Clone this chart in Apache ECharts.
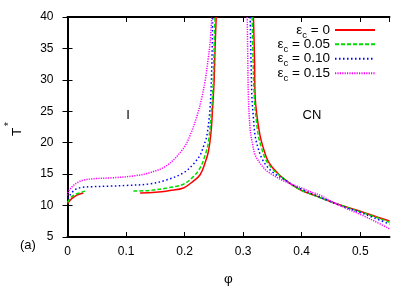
<!DOCTYPE html>
<html><head><meta charset="utf-8">
<script src="https://cdn.jsdelivr.net/npm/echarts@6/dist/echarts.min.js"></script>
<style>html,body{margin:0;padding:0;background:#fff}#c{width:415px;height:291px}</style>
</head><body><div id="c"></div>
<script>
// eps_c = 0
const red_left1 = [[0,10.3],[0.005,10.9],[0.01,11.3],[0.017,11.7],[0.027,12.0]];
const red_left2 = [[0.124,12.0],[0.15,12.1],[0.175,12.4],[0.198,12.8],[0.215,13.9],[0.2265,14.9],[0.235,16.8],[0.2407,18.6],[0.245,21.5],[0.248,25.7],[0.2505,30],[0.252,34.9],[0.254,40]];
const red_right = [[0.3176,40],[0.3195,33],[0.3205,27.3],[0.324,24],[0.329,21.1],[0.334,19.3],[0.3405,17.5],[0.348,16.3],[0.3576,15.3],[0.365,14.6],[0.385,13.2],[0.4,12.4],[0.425,11.5],[0.45,10.6],[0.475,9.8],[0.5,9.1],[0.525,8.3],[0.55,7.55]];
// eps_c = 0.05
const green_left1 = [[0,10.5],[0.005,11.2],[0.01,11.6],[0.02,12.0],[0.03,12.3]];
const green_left2 = [[0.1125,12.3],[0.14,12.4],[0.17,12.8],[0.198,13.4],[0.215,14.6],[0.2265,16.0],[0.235,18],[0.2407,20.1],[0.2465,25.7],[0.249,30],[0.2504,34.9],[0.252,40]];
const green_right = [[0.3154,40],[0.317,33],[0.319,27.3],[0.322,24],[0.326,21.1],[0.331,19.3],[0.3376,17.5],[0.345,16.4],[0.3547,15.4],[0.365,14.6],[0.38,13.5],[0.4,12.4],[0.425,11.5],[0.45,10.6],[0.475,9.8],[0.5,9.0],[0.525,8.2],[0.55,7.35]];
// eps_c = 0.10
const blue_left = [[0,11.1],[0.004,11.65],[0.01,12.3],[0.016,12.7],[0.025,12.9],[0.04,13.0],[0.073,13.1],[0.1,13.2],[0.141,13.45],[0.17,14.1],[0.198,15.2],[0.215,16.6],[0.2265,18.05],[0.233,19.6],[0.238,21.1],[0.2436,25.7],[0.2465,32.4],[0.248,40]];
const blue_right = [[0.312,40],[0.3135,33],[0.315,27.3],[0.3175,24],[0.3205,21.1],[0.326,19],[0.332,17.5],[0.341,16.2],[0.352,15.2],[0.369,14.2],[0.385,13.3],[0.4,12.6],[0.425,11.6],[0.45,10.6],[0.475,9.7],[0.5,8.9],[0.525,8.0],[0.55,7.05]];
// eps_c = 0.15
const magenta_left = [[0,11.6],[0.002,12.3],[0.01,13.2],[0.018,13.7],[0.027,14.06],[0.05,14.3],[0.073,14.4],[0.112,14.7],[0.141,15.24],[0.17,16.4],[0.198,19.1],[0.21,21.3],[0.221,24.2],[0.229,27],[0.235,29.8],[0.2405,33.5],[0.2436,36],[0.2465,40]];
const magenta_right = [[0.307,40],[0.308,33],[0.309,27.3],[0.312,22.1],[0.316,19.8],[0.3205,18.05],[0.33,16.6],[0.3405,15.5],[0.352,14.8],[0.363,14.2],[0.38,13.5],[0.397,12.9],[0.415,12.2],[0.4316,11.65],[0.45,10.7],[0.475,9.6],[0.5,8.6],[0.525,7.5],[0.55,6.3]];

const seriesNames = ['0', '0.05', '0.10', '0.15'];
const font = 'Liberation Sans';
const styles = [
  {color:'#ff0000', type:'solid'},
  {color:'#00dd00', type:[4,2]},
  {color:'#0000ff', type:[1.5,2.5]},
  {color:'#ff00ff', type:[1.2,1.2]}
];
const groups = [
  [red_left1, red_left2, red_right],
  [green_left1, green_left2, green_right],
  [blue_left, blue_right],
  [magenta_left, magenta_right]
];
const series = [];
groups.forEach((segs, i) => {
  segs.forEach(d => {
    series.push({
      name: seriesNames[i], type: 'line', data: d, showSymbol: false, symbol: 'none',
      smooth: 0.35, clip: true, animation: false,
      lineStyle: {color: styles[i].color, type: styles[i].type, width: 1.5},
      itemStyle: {color: styles[i].color}
    });
  });
});

const legendRowCenters = [29, 43.3, 57.7, 72.3];
const legends = seriesNames.map((n, i) => ({
  orient: 'vertical', right: 39, top: legendRowCenters[i] - 6, align: 'right', padding: 0,
  itemWidth: 40, itemHeight: 12, itemGap: 0,
  itemStyle: {opacity: 0},
  data: [n],
  formatter: s => '{m|ε}{s|c}{m| = ' + s + '}',
  textStyle: {
    fontFamily: font, fontSize: 13.5, color: '#000',
    rich: {
      m: {fontFamily: font, fontSize: 13.5, lineHeight: 14, color: '#000'},
      s: {fontFamily: font, fontSize: 9.5, lineHeight: 8, verticalAlign: 'bottom', color: '#000', padding: [0,0,-3,0]}
    }
  }
}));

const chart = echarts.init(document.getElementById('c'), null, {renderer: 'canvas'});
const grid = {left: 67.5, right: 25.5, top: 17, bottom: 46};
const axisCommon = {
  axisLine: {show: true, lineStyle: {color: '#000', width: 2}},
  axisTick: {show: true, inside: true, length: 5, lineStyle: {color: '#000', width: 1}},
  splitLine: {show: false}
};
chart.setOption({
  animation: false,
  grid: grid,
  legend: legends,
  xAxis: [
    Object.assign({}, axisCommon, {
      type: 'value', min: 0, max: 0.55, interval: 0.1, position: 'bottom',
      name: 'φ', nameLocation: 'middle', nameGap: 35,
      nameTextStyle: {fontFamily: font, fontSize: 13.5, color: '#000'},
      axisLabel: {fontFamily: font, fontSize: 12, color: '#000', margin: 9, showMaxLabel: false}
    }),
    Object.assign({}, axisCommon, {
      type: 'value', min: 0, max: 0.55, interval: 0.1, position: 'top',
      axisLabel: {show: false}
    })
  ],
  yAxis: [
    Object.assign({}, axisCommon, {
      type: 'value', min: 5, max: 40, interval: 5, position: 'left',
      axisLabel: {fontFamily: font, fontSize: 12, color: '#000', margin: 14}
    }),
    Object.assign({}, axisCommon, {
      type: 'value', min: 5, max: 40, interval: 5, position: 'right',
      axisLabel: {show: false}
    })
  ],
  graphic: [
    {type: 'text', x: 17, y: 132, rotation: Math.PI / 2,
      style: {text: 'T', align: 'center', verticalAlign: 'middle', fill: '#000', font: '13.5px "Liberation Sans"'}},
    {type: 'text', x: 9, y: 124, rotation: Math.PI / 2,
      style: {text: '*', align: 'center', verticalAlign: 'middle', fill: '#000', font: '10px "Liberation Sans"'}},
    {type: 'text', left: 20, top: 239, style: {text: '(a)', font: '13px "Liberation Sans"', fill: '#000'}},
    {type: 'text', x: 128, y: 115, style: {text: 'I', font: '13px "Liberation Sans"', fill: '#000', align: 'center', verticalAlign: 'middle'}},
    {type: 'text', x: 312, y: 115, style: {text: 'CN', font: '13px "Liberation Sans"', fill: '#000', align: 'center', verticalAlign: 'middle'}}
  ],
  series: series
});
</script></body></html>
